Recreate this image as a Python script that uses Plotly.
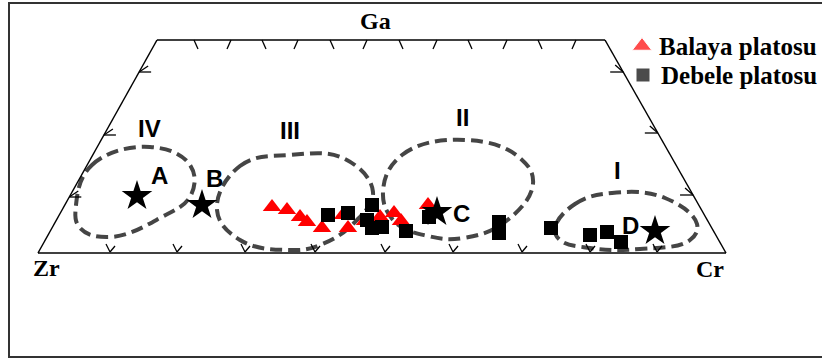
import plotly.graph_objects as go

W, H = 822, 360

# ---- data (diagram coordinates, pixel-like, y downward) ----
balaya_x = [272, 287, 300, 307, 322, 343, 348, 365, 380, 394, 401, 428]
balaya_y = [207, 210, 217, 222, 228, 215, 228, 221, 217, 213, 221, 205]

debele_x = [328, 348, 372, 367, 372, 382, 406, 429, 499, 499, 551, 590, 607, 621]
debele_y = [215, 213, 205, 220, 228, 227, 231, 217, 222, 233, 228, 235, 232, 242]

star_names = ["A", "B", "C", "D"]
star_x = [137, 202, 437, 655]
star_y = [196, 205, 212, 231]
star_label_x = [159, 214, 461, 630]
star_label_y = [175, 178, 213, 225]

field_names = ["IV", "III", "II", "I"]
field_label_x = [149, 290, 462, 617]
field_label_y = [128, 130, 117, 170]
fields = {
    "IV": ([76, 92, 150, 190, 191, 160, 110, 80],
           [205, 165, 147, 165, 195, 218, 237, 228]),
    "III": ([217, 240, 290, 345, 373, 355, 320, 290, 240],
            [210, 166, 155, 159, 192, 222, 245, 250, 240]),
    "II": ([383, 402, 467, 520, 533, 505, 463, 428, 395],
           [192, 155, 140, 158, 184, 222, 238, 236, 222]),
    "I": ([555, 575, 612, 665, 697, 690, 640, 590, 560],
          [228, 204, 193, 198, 224, 240, 249, 248, 240]),
}

apex_names = ["Zr", "Ga", "Cr"]
apex_x = [46, 375, 710]
apex_y = [268, 21, 269]

trap_x = [38, 157, 605, 726]
trap_y = [253, 40, 40, 253]

top_ticks = [198, 227, 266, 294, 334, 363, 403, 433, 472, 503, 542, 572]
bottom_ticks = [110, 177, 245, 315, 385, 453, 522, 590, 657]
left_ticks_y = [72, 135, 197]
right_ticks_y = [72, 133, 195]

legend_names = ["Balaya platosu", "Debele platosu"]
legend_key_x = [642, 643]
legend_key_y = [46, 75]
legend_text_x = [659, 661]

fig = go.Figure()

# dashed fields
for name in field_names:
    fx, fy = fields[name]
    fig.add_trace(go.Scatter(
        x=fx + [fx[0]], y=fy + [fy[0]], mode="lines",
        line=dict(color="#454545", width=4, dash="12px,6px", shape="spline", smoothing=1.2),
        showlegend=False, hoverinfo="skip"))

fig.add_trace(go.Scatter(
    x=balaya_x, y=balaya_y, mode="markers", name="Balaya platosu", showlegend=False,
    marker=dict(symbol="triangle-up", size=16, color="#ff0000")))
fig.add_trace(go.Scatter(
    x=debele_x, y=debele_y, mode="markers", name="Debele platosu", showlegend=False,
    marker=dict(symbol="square", size=14, color="#000000")))
fig.add_trace(go.Scatter(
    x=star_x, y=star_y, mode="markers", showlegend=False,
    marker=dict(symbol="star", size=23, color="#000000")))

# legend keys (manual legend)
fig.add_trace(go.Scatter(
    x=legend_key_x, y=legend_key_y, mode="markers", showlegend=False, hoverinfo="skip",
    marker=dict(symbol=["triangle-up", "square"], size=[17, 14], color=["#ff0000", "#000000"])))

shapes = []
# outer frame
shapes.append(dict(type="rect", xref="x", yref="y", x0=9, y0=3, x1=830, y1=357,
                   line=dict(color="#333333", width=2)))
# trapezoid
tx = trap_x + [trap_x[0]]
ty = trap_y + [trap_y[0]]
for i in range(4):
    shapes.append(dict(type="line", xref="x", yref="y", x0=tx[i], y0=ty[i], x1=tx[i + 1], y1=ty[i + 1],
                       line=dict(color="black", width=1.5)))

line_k = dict(color="black", width=1.3)
top_y = trap_y[1]
for i, x in enumerate(top_ticks):
    d = 4 if i % 2 == 0 else -4
    shapes.append(dict(type="line", x0=x - d, y0=top_y, x1=x, y1=top_y + 9, line=line_k))
bot_y = trap_y[0]
for x in bottom_ticks:
    shapes.append(dict(type="line", x0=x - 4, y0=bot_y - 9, x1=x, y1=bot_y - 1, line=line_k))
    shapes.append(dict(type="line", x0=x, y0=bot_y - 1, x1=x + 5, y1=bot_y - 7, line=line_k))
# left edge ticks
for yv in left_ticks_y:
    xe = trap_x[0] + (trap_x[1] - trap_x[0]) * (trap_y[0] - yv) / (trap_y[0] - trap_y[1])
    shapes.append(dict(type="line", x0=xe, y0=yv, x1=xe + 12, y1=yv, line=line_k))
    shapes.append(dict(type="line", x0=xe, y0=yv, x1=xe + 9, y1=yv - 6, line=line_k))
# right edge ticks
for yv in right_ticks_y:
    xe = trap_x[3] + (trap_x[2] - trap_x[3]) * (trap_y[3] - yv) / (trap_y[3] - trap_y[2])
    shapes.append(dict(type="line", x0=xe - 13, y0=yv, x1=xe, y1=yv, line=line_k))
    shapes.append(dict(type="line", x0=xe - 8, y0=yv - 7, x1=xe, y1=yv, line=line_k))

annotations = []
for t, x, y in zip(apex_names, apex_x, apex_y):
    annotations.append(dict(x=x, y=y, text="<b>" + t + "</b>", showarrow=False,
                            font=dict(family="Liberation Serif", size=24, color="black"),
                            xanchor="center", yanchor="middle"))
for t, x, y in zip(field_names, field_label_x, field_label_y):
    annotations.append(dict(x=x, y=y, text="<b>" + t + "</b>", showarrow=False,
                            font=dict(family="Liberation Sans", size=24, color="black"),
                            xanchor="center", yanchor="middle"))
for t, x, y in zip(star_names, star_label_x, star_label_y):
    annotations.append(dict(x=x, y=y, text="<b>" + t + "</b>", showarrow=False,
                            font=dict(family="Liberation Sans", size=24, color="black"),
                            xanchor="center", yanchor="middle"))
for t, x, y in zip(legend_names, legend_text_x, legend_key_y):
    annotations.append(dict(x=x, y=y, text="<b>" + t + "</b>", showarrow=False,
                            font=dict(family="Liberation Serif", size=25, color="black"),
                            xanchor="left", yanchor="middle", xshift=-2))

fig.update_layout(
    width=W, height=H, margin=dict(l=0, r=0, t=0, b=0),
    paper_bgcolor="white", plot_bgcolor="white",
    xaxis=dict(range=[0, W], visible=False, fixedrange=True),
    yaxis=dict(range=[H, 0], visible=False, fixedrange=True),
    shapes=shapes, annotations=annotations,
    showlegend=False,
)

fig.write_html("out.html", config={"displayModeBar": False},
               post_script="document.body.style.margin='0';document.body.style.overflow='hidden';")
